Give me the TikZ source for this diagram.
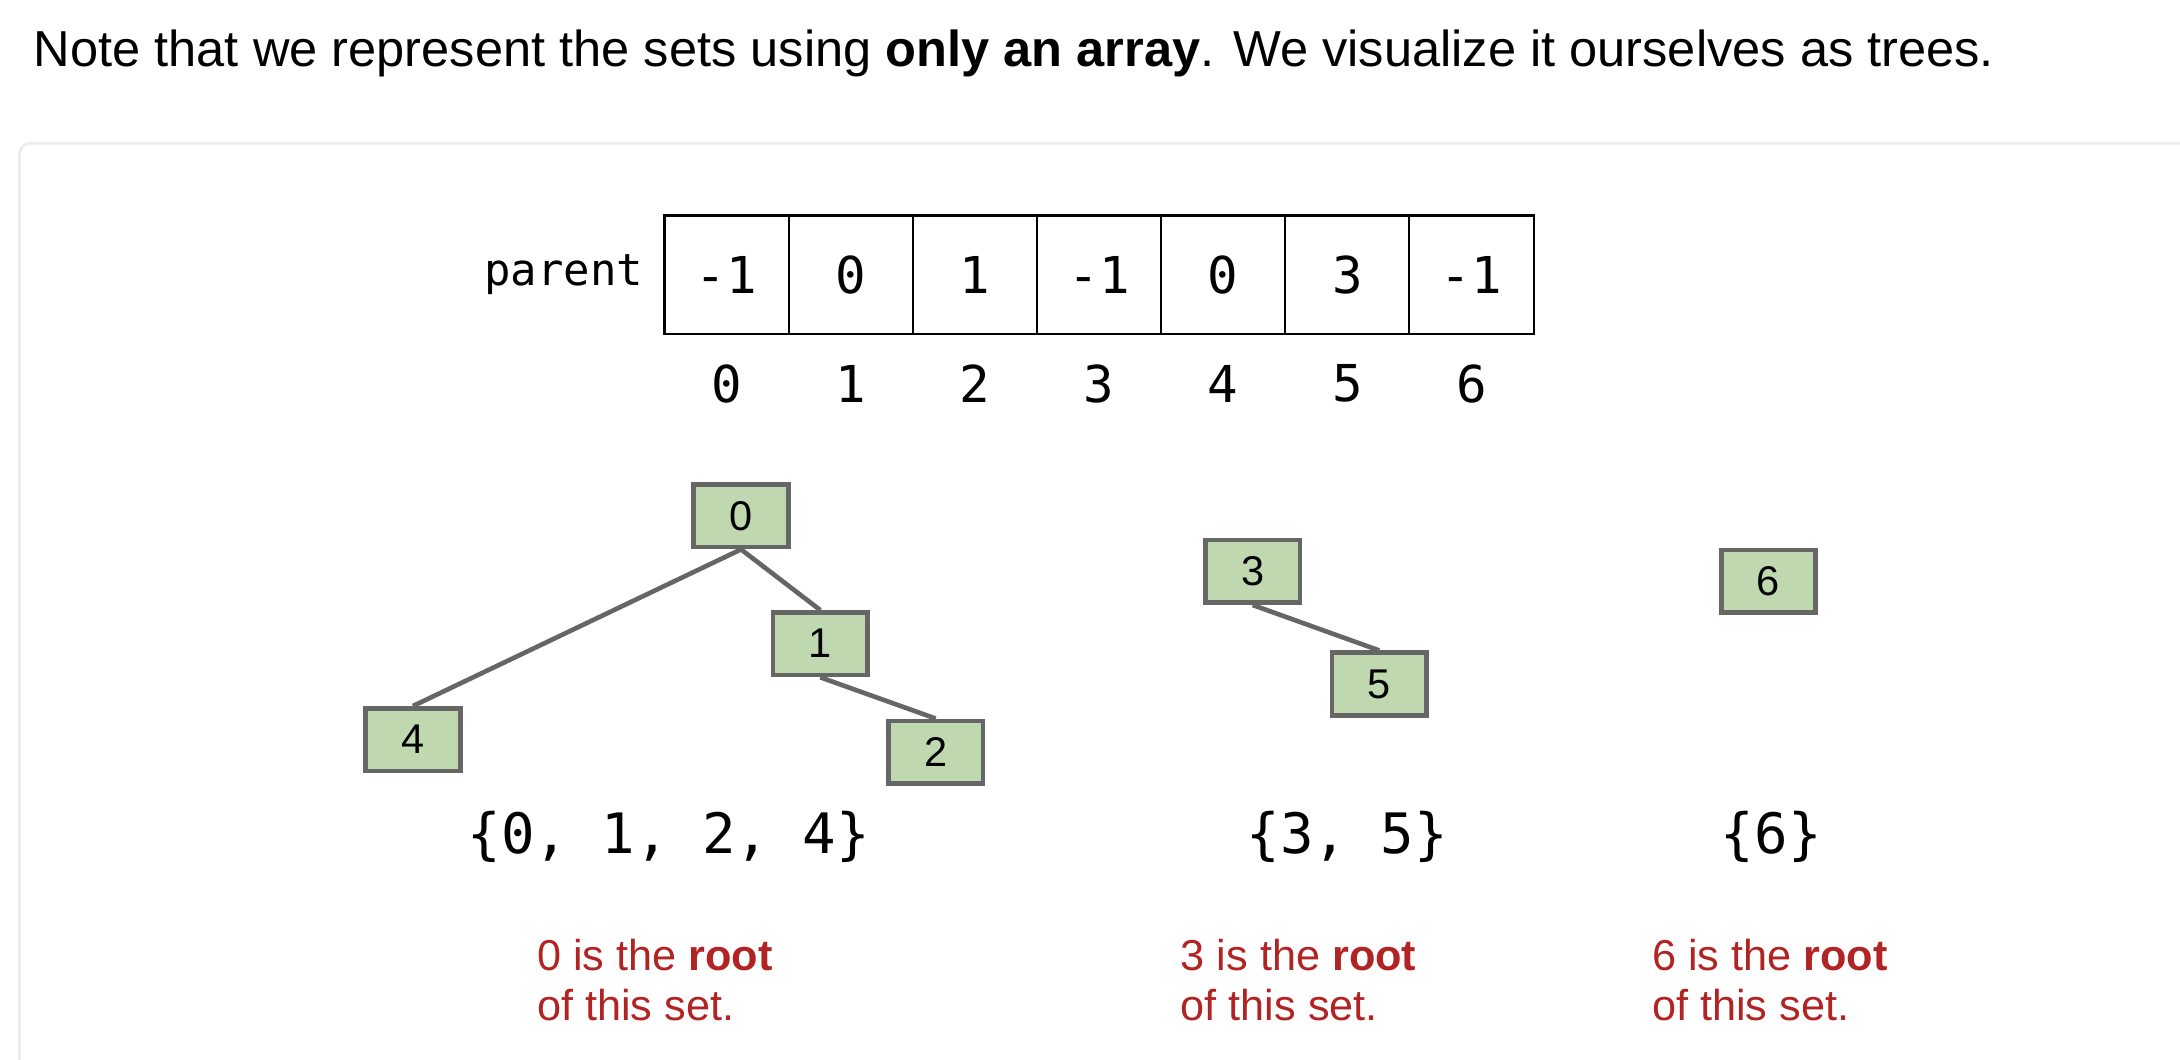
\documentclass[tikz,border=0pt]{standalone}
\usepackage{fontspec}
\setmainfont{Liberation Sans}
\setmonofont{DejaVu Sans Mono}
\definecolor{cardgray}{HTML}{EBEBEB}
\definecolor{nodegreen}{HTML}{BFD8B0}
\definecolor{nodeedge}{HTML}{666666}
\definecolor{rootred}{HTML}{B22424}

\begin{document}
\begin{tikzpicture}[x=0.2mm, y=-0.2mm,
        cell/.style={draw=black, line width=0.85pt, minimum width=17.86mm, minimum height=17mm, inner sep=0pt, font=\fontsize{20.8}{24}\ttfamily},
        idx/.style={inner sep=0pt, font=\fontsize{20.8}{24}\ttfamily},
        elem/.style={draw=nodeedge, fill=nodegreen, line width=1.9pt, minimum width=13.6mm, minimum height=9mm, inner sep=0pt, font=\fontsize{17}{19}\selectfont},
        link/.style={draw=nodeedge, line width=1.9pt},
        setlabel/.style={inner sep=0pt, anchor=base, font=\fontsize{22.8}{26}\ttfamily},
        note/.style={inner sep=0pt, anchor=north west, align=left, text=rootred, font=\fontsize{17.7}{20.5}\selectfont}]
        \useasboundingbox (0,0) rectangle (1568,762);
        \clip (0,0) rectangle (1568,762);
        % heading and card
        \node (title) [inner sep=0pt, anchor=base west, font=\fontsize{20.7}{24}\selectfont] at (24,48) {Note that we represent the sets using \textbf{only an array}. We visualize it ourselves as trees.};
        \draw [cardgray, line width=1.1pt, rounded corners=4.5pt] (14,800) -- (14,103) -- (1600,103);
        % parent array
        \node (lbl) [inner sep=0pt, anchor=base east, font=\fontsize{18}{20}\ttfamily] at (463,205) {parent};
        \node (c0) [cell] at (522.6,197.5) {-1};
        \node (c1) [cell] at (611.9,197.5) {0};
        \node (c2) [cell] at (701.2,197.5) {1};
        \node (c3) [cell] at (790.5,197.5) {-1};
        \node (c4) [cell] at (879.8,197.5) {0};
        \node (c5) [cell] at (969.1,197.5) {3};
        \node (c6) [cell] at (1058.4,197.5) {-1};
        \node (i0) [idx] at (522.6,276) {0};
        \node (i1) [idx] at (611.9,276) {1};
        \node (i2) [idx] at (701.2,276) {2};
        \node (i3) [idx] at (790.5,276) {3};
        \node (i4) [idx] at (879.8,276) {4};
        \node (i5) [idx] at (969.1,276) {5};
        \node (i6) [idx] at (1058.4,276) {6};
        % trees
        \node (n0) [elem] at (533,371) {0};
        \node (n1) [elem] at (590,463) {1};
        \node (n4) [elem] at (297,532) {4};
        \node (n2) [elem] at (673,541) {2};
        \node (n3) [elem] at (901,411) {3};
        \node (n5) [elem] at (992,492) {5};
        \node (n6) [elem] at (1272,418) {6};
        \draw [link] (n0.south) -- (n4.north);
        \draw [link] (n0.south) -- (n1.north);
        \draw [link] (n1.south) -- (n2.north);
        \draw [link] (n3.south) -- (n5.north);
        % sets and notes
        \node (s0) [setlabel] at (481,614) {\{0, 1, 2, 4\}};
        \node (s3) [setlabel] at (969,614) {\{3, 5\}};
        \node (s6) [setlabel] at (1274,614) {\{6\}};
        \node (r0) [note] at (386,675) {0 is the \textbf{root}\\of this set.};
        \node (r3) [note] at (849,675) {3 is the \textbf{root}\\of this set.};
        \node (r6) [note] at (1188,675) {6 is the \textbf{root}\\of this set.};
\end{tikzpicture}
\end{document}
